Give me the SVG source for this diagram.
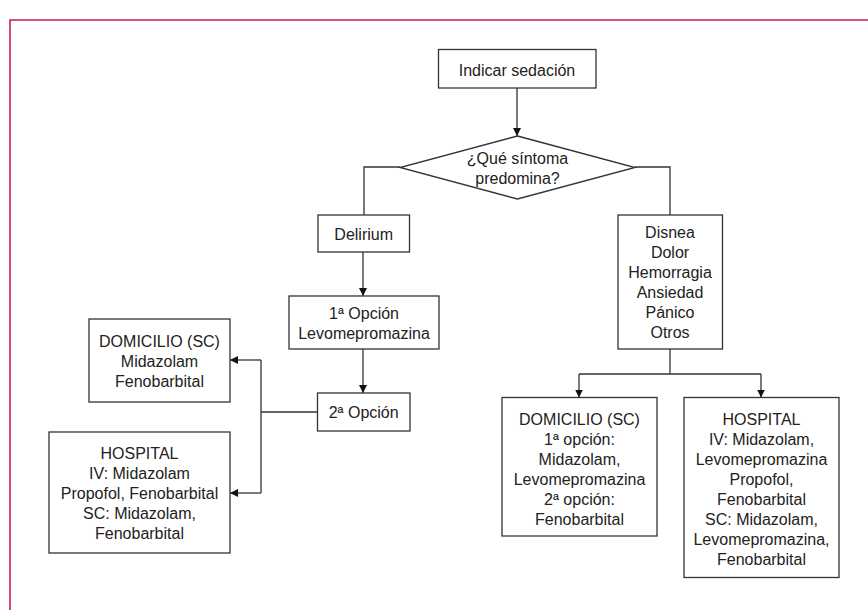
<svg xmlns="http://www.w3.org/2000/svg" width="868" height="610" viewBox="0 0 868 610">
<style>
.box{fill:#fff;stroke:#333;stroke-width:1.3}
.ln{fill:none;stroke:#333;stroke-width:1.3}
text{font-family:"Liberation Sans",Arial,sans-serif;font-size:16px;fill:#222;text-anchor:middle}
</style>
<defs>
<marker id="ah" viewBox="0 0 10 10" refX="10" refY="5" markerWidth="8" markerHeight="8" markerUnits="userSpaceOnUse" orient="auto">
<path d="M0,0 L10,5 L0,10 Z" fill="#111"/>
</marker>
</defs>
<rect width="868" height="610" fill="#fff"/>
<g id="frame">
<path d="M10,610 V20 H868" fill="none" stroke="#c91a5f" stroke-width="1.6"/>
</g>
<g id="connectors">
<path class="ln" d="M517,88 V136" marker-end="url(#ah)"/>
<path class="ln" d="M400,167 H364 V215"/>
<path class="ln" d="M635,167 H670 V215"/>
<path class="ln" d="M363,252 V296" marker-end="url(#ah)"/>
<path class="ln" d="M363,349 V393" marker-end="url(#ah)"/>
<path class="ln" d="M317,412 H261"/>
<path class="ln" d="M261,360 V493"/>
<path class="ln" d="M261,360 H230" marker-end="url(#ah)"/>
<path class="ln" d="M261,493 H230" marker-end="url(#ah)"/>
<path class="ln" d="M670,349 V374"/>
<path class="ln" d="M579,374 H761"/>
<path class="ln" d="M579,374 V397.5" marker-end="url(#ah)"/>
<path class="ln" d="M761,374 V397.5" marker-end="url(#ah)"/>
</g>
<g id="n-indicar">
<rect class="box" x="438.5" y="49.5" width="157.5" height="38.5"/>
<text x="517" y="75.5">Indicar sedación</text>
</g>
<g id="n-decision">
<polygon class="box" points="517.5,136 635,167.5 517.5,199 400,167.5"/>
<text x="517.5" y="164">¿Qué síntoma</text>
<text x="517.5" y="183.5">predomina?</text>
</g>
<g id="n-delirium">
<rect class="box" x="318" y="215" width="91.5" height="37"/>
<text x="363.7" y="239.5">Delirium</text>
</g>
<g id="n-opcion1">
<rect class="box" x="289" y="296" width="150" height="53"/>
<text x="364" y="319">1ª Opción</text>
<text x="364" y="339">Levomepromazina</text>
</g>
<g id="n-opcion2">
<rect class="box" x="317.5" y="393" width="92.5" height="38"/>
<text x="363.7" y="418">2ª Opción</text>
</g>
<g id="n-dom-left">
<rect class="box" x="89" y="319" width="141" height="83"/>
<text x="159.5" y="346.5">DOMICILIO (SC)</text>
<text x="159.5" y="366.5">Midazolam</text>
<text x="159.5" y="386.5">Fenobarbital</text>
</g>
<g id="n-hosp-left">
<rect class="box" x="49" y="432" width="181" height="121"/>
<text x="139.5" y="458.5">HOSPITAL</text>
<text x="139.5" y="478.5">IV: Midazolam</text>
<text x="139.5" y="498.5">Propofol, Fenobarbital</text>
<text x="139.5" y="518.5">SC: Midazolam,</text>
<text x="139.5" y="538.5">Fenobarbital</text>
</g>
<g id="n-disnea">
<rect class="box" x="618" y="215" width="104.5" height="134"/>
<text x="670" y="237.5">Disnea</text>
<text x="670" y="257.5">Dolor</text>
<text x="670" y="277.5">Hemorragia</text>
<text x="670" y="297.5">Ansiedad</text>
<text x="670" y="317.5">Pánico</text>
<text x="670" y="337.5">Otros</text>
</g>
<g id="n-dom-right">
<rect class="box" x="502" y="397.5" width="155" height="138.5"/>
<text x="579.5" y="424.5">DOMICILIO (SC)</text>
<text x="579.5" y="444.5">1ª opción:</text>
<text x="579.5" y="464.5">Midazolam,</text>
<text x="579.5" y="484.5">Levomepromazina</text>
<text x="579.5" y="504.5">2ª opción:</text>
<text x="579.5" y="524.5">Fenobarbital</text>
</g>
<g id="n-hosp-right">
<rect class="box" x="684" y="397.5" width="155" height="180"/>
<text x="761.5" y="424.5">HOSPITAL</text>
<text x="761.5" y="444.5">IV: Midazolam,</text>
<text x="761.5" y="464.5">Levomepromazina</text>
<text x="761.5" y="484.5">Propofol,</text>
<text x="761.5" y="504.5">Fenobarbital</text>
<text x="761.5" y="524.5">SC: Midazolam,</text>
<text x="761.5" y="544.5">Levomepromazina,</text>
<text x="761.5" y="564.5">Fenobarbital</text>
</g>
</svg>
